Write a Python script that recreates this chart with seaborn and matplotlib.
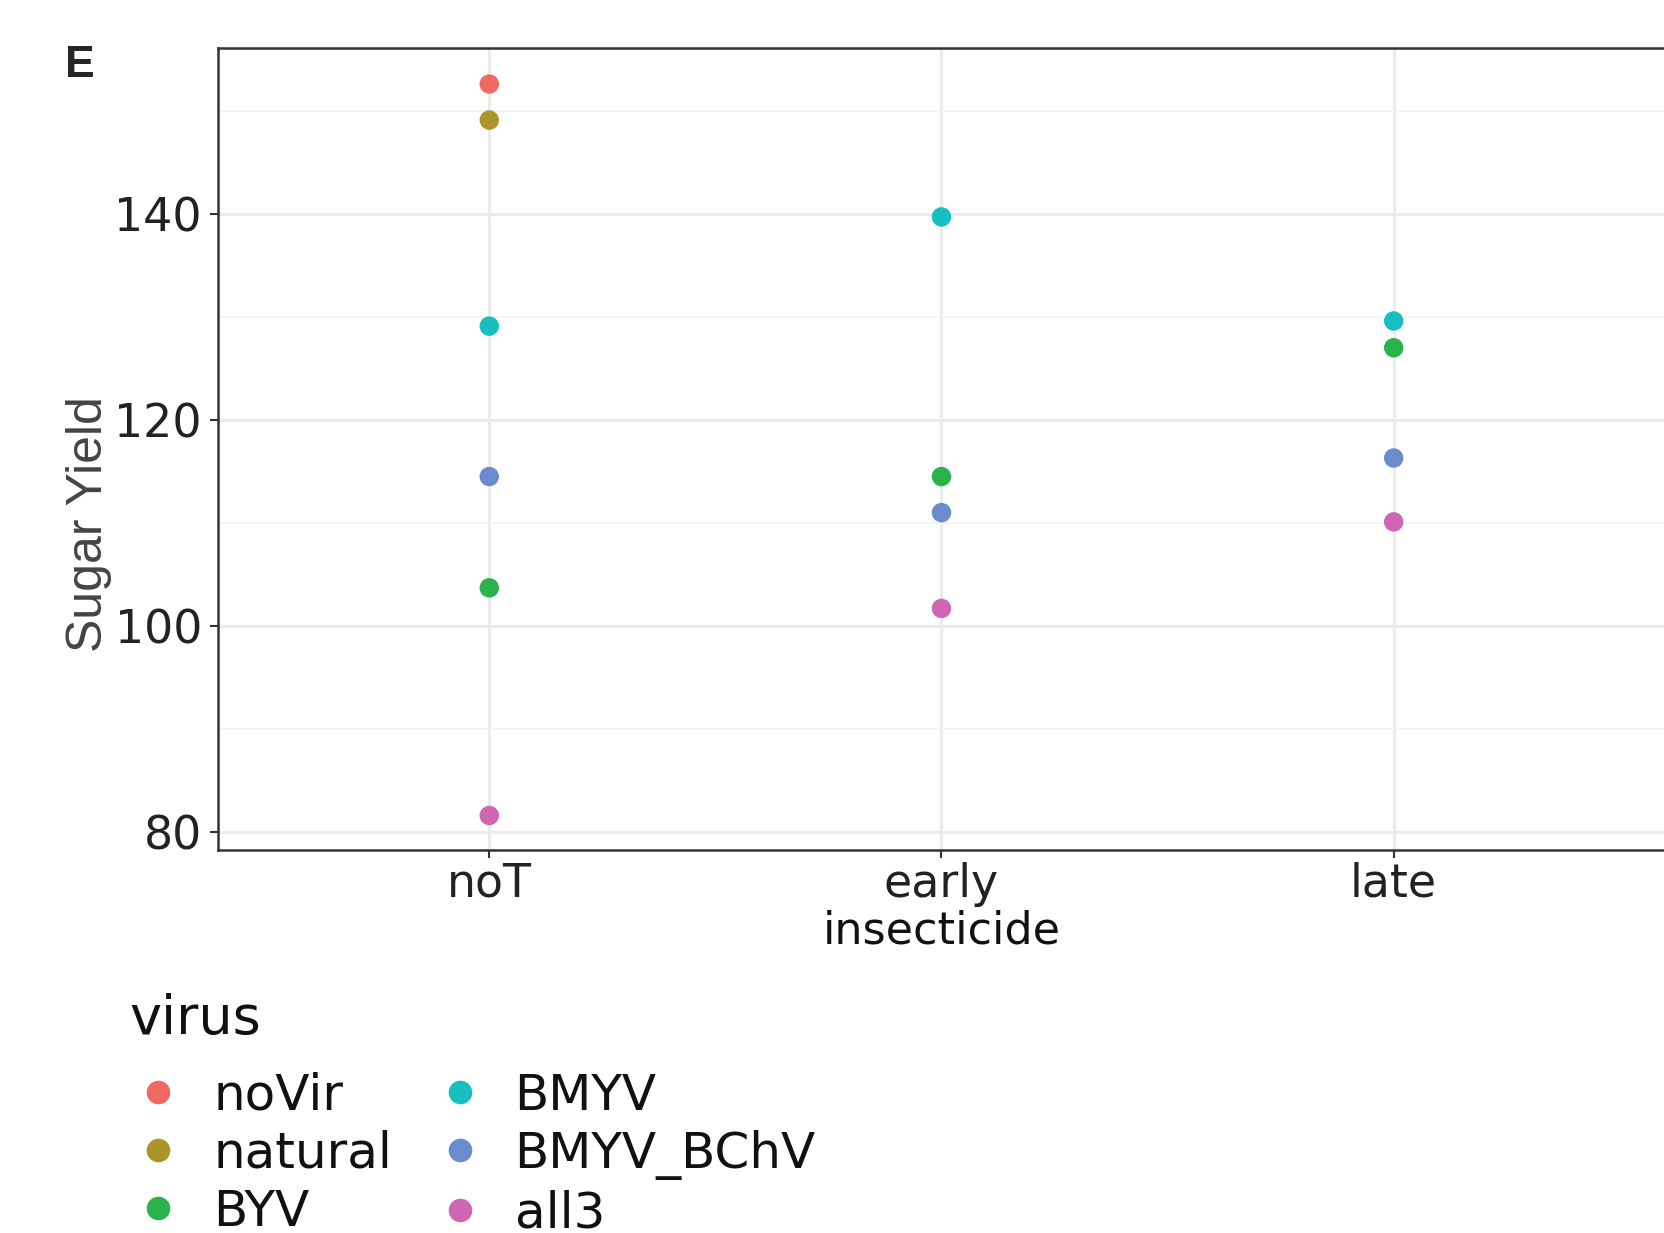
import numpy as np
import pandas as pd
import matplotlib
matplotlib.use("Agg")
import matplotlib.pyplot as plt
from matplotlib.lines import Line2D
import seaborn as sns

# ------------------------------------------------------
# Data
# ------------------------------------------------------
treatments = ["noT", "early", "late"]
viruses = ["noVir", "natural", "BYV", "BMYV", "BMYV_BChV", "all3"]

noVir = [152.6, np.nan, np.nan]
natural = [149.1, np.nan, np.nan]
BYV = [103.7, 114.5, 127.0]
BMYV = [129.1, 139.7, 129.6]
BMYV_BChV = [114.5, 111.0, 116.3]
all3 = [81.6, 101.7, 110.1]

colors = ["#EE6A60", "#AB9428", "#2AB34B", "#17BEC2", "#6A8CCF", "#CF66B4"]

yields = [noVir, natural, BYV, BMYV, BMYV_BChV, all3]

df = pd.DataFrame({
    "insecticide": treatments * len(viruses),
    "virus": np.repeat(viruses, len(treatments)),
    "Sugar Yield": np.concatenate(yields),
}).dropna()

# ------------------------------------------------------
# Plot
# ------------------------------------------------------
sns.set_style("white")
plt.rcParams["font.family"] = ["DejaVu Sans"]

fig = plt.figure(figsize=(16.65, 12.33), dpi=100)
ax = fig.add_axes([0.1309, 0.3106, 0.8691, 0.6505])

palette = dict(zip(viruses, colors))

sns.stripplot(
    data=df,
    x="insecticide",
    y="Sugar Yield",
    hue="virus",
    order=treatments,
    hue_order=viruses,
    palette=palette,
    jitter=False,
    dodge=False,
    size=14,
    linewidth=0,
    legend=False,
    ax=ax,
    zorder=3,
)

ax.set_xlim(-0.6, 2.6)
ax.set_ylim(78.25, 156.1)
ax.set_yticks([80, 100, 120, 140])
ax.set_yticks([90, 110, 130, 150], minor=True)

ax.grid(True, which="major", color="#EBEBEB", linewidth=2.2, zorder=0)
ax.grid(True, which="minor", axis="y", color="#F2F2F2", linewidth=1.2, zorder=0)
ax.set_axisbelow(True)

for spine in ax.spines.values():
    spine.set_color("#333333")
    spine.set_linewidth(1.8)

ax.tick_params(
    axis="both",
    which="major",
    length=5.5,
    width=1.5,
    color="#333333",
    labelsize=33,
    labelcolor="#222222",
    pad=6,
    left=True,
    bottom=True,
)
ax.tick_params(axis="x", which="major", pad=3)
ax.tick_params(axis="y", which="minor", length=0)

ax.set_xlabel("insecticide", fontsize=32, color="#111111", labelpad=2)
ax.set_ylabel("Sugar Yield", fontsize=36, color="#444444",
              family="Liberation Sans", labelpad=8)
ax.yaxis.set_label_coords(-0.073, 0.407)

# panel tag
fig.text(0.048, 0.947, "E", fontsize=32, fontweight="heavy",
         family="Liberation Sans", va="center", ha="center")

# legend
fig.text(0.078, 0.1736, "virus", fontsize=39, color="#111111",
         ha="left", va="center")

handles = [
    Line2D([], [], linestyle="", marker="o", markersize=17,
           markerfacecolor=c, markeredgewidth=0)
    for c in colors
]
leg = fig.legend(
    handles,
    viruses,
    loc="upper left",
    bbox_to_anchor=(0.068, 0.147),
    ncol=2,
    frameon=False,
    fontsize=36,
    handlelength=1.0,
    handletextpad=0.6,
    labelspacing=0.2,
    columnspacing=0.85,
    borderaxespad=0,
)
for text in leg.get_texts():
    text.set_color("#111111")

fig.savefig("out.png", dpi=100)
plt.close(fig)
